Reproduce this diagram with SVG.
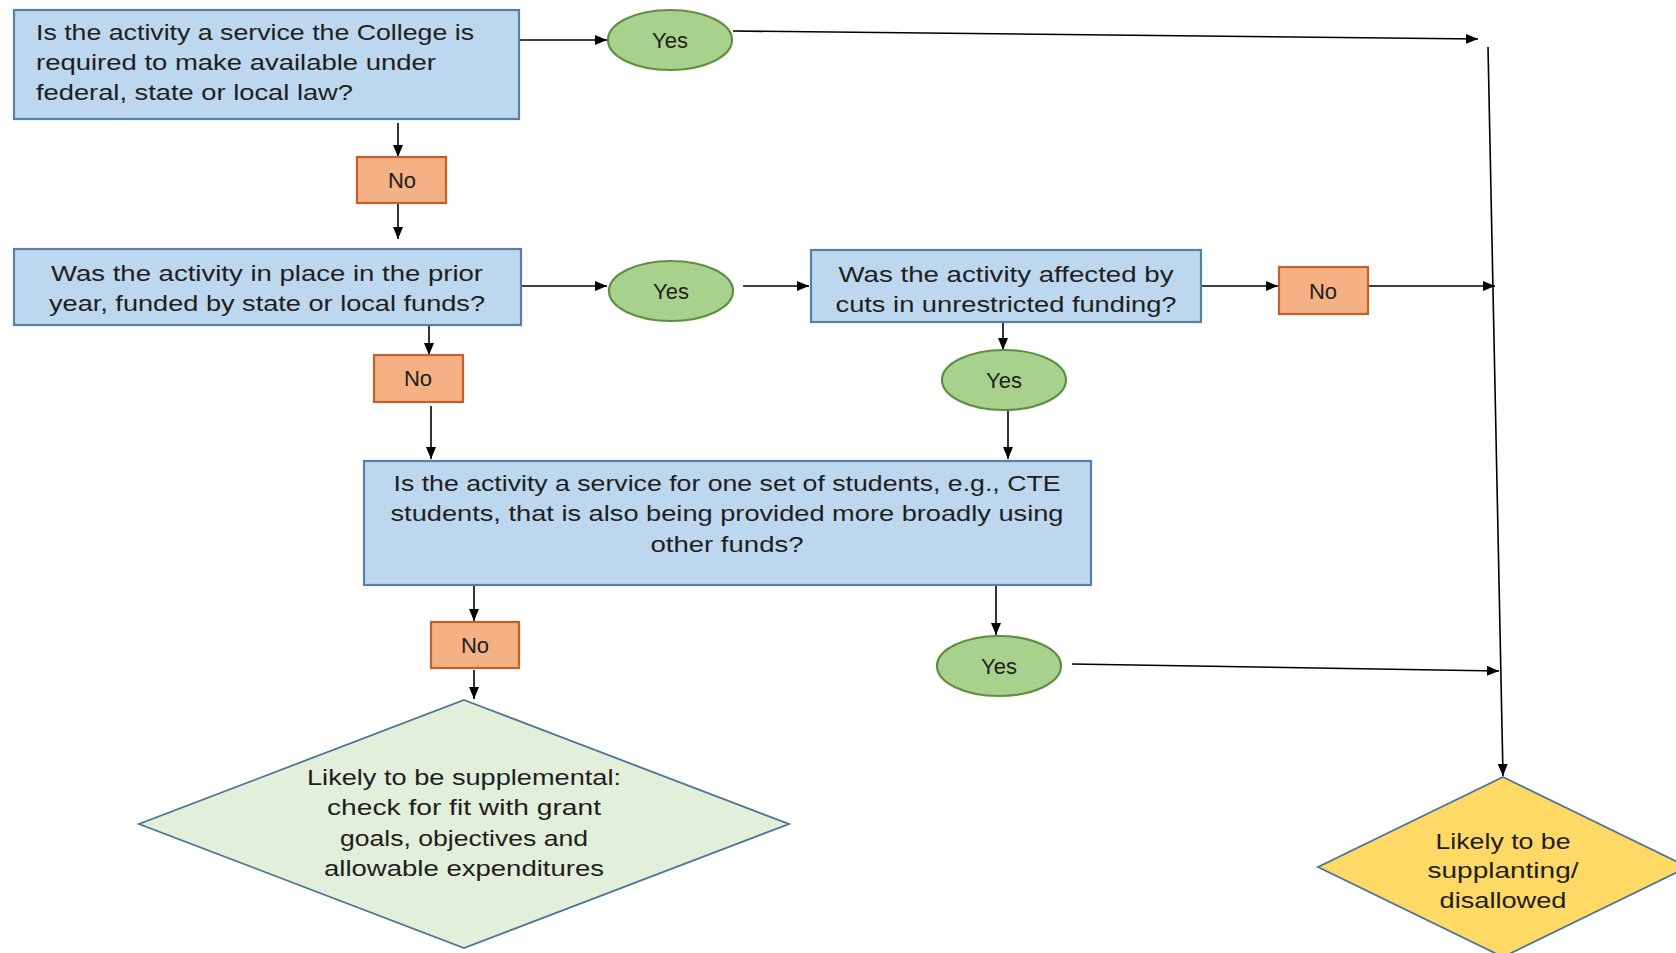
<svg xmlns="http://www.w3.org/2000/svg" width="1676" height="953" viewBox="0 0 1676 953">
<style>
.q{fill:#bdd7ee;stroke:#5a7fa6;stroke-width:2.2}
.y{fill:#a9d18e;stroke:#5f8f41;stroke-width:2.2}
.n{fill:#f4b183;stroke:#c0622a;stroke-width:2.2}
.d1{fill:#e2efda;stroke:#4d7594;stroke-width:1.8}
.d2{fill:#ffd966;stroke:#4d7594;stroke-width:1.8}
text{font-family:"Liberation Sans",Arial,sans-serif;font-size:22.5px;fill:#1e1e1e}
.c{text-anchor:middle}
.s{font-size:22px}
.e line,.e path{stroke:#000;stroke-width:1.6;fill:none;marker-end:url(#ah)}
</style>
<defs>
<marker id="ah" markerUnits="userSpaceOnUse" markerWidth="12" markerHeight="10" refX="12" refY="5" orient="auto">
<path d="M0,0 L12,5 L0,10 z" fill="#000"/>
</marker>
</defs>
<rect width="1676" height="953" fill="#fff"/>
<g id="connectors" class="e">
<line x1="519" y1="40" x2="607" y2="40"/>
<line x1="733" y1="31" x2="1478" y2="39"/>
<line x1="1488" y1="47" x2="1503" y2="776"/>
<line x1="398" y1="123" x2="398" y2="157"/>
<line x1="398" y1="203" x2="398" y2="239"/>
<line x1="521" y1="286" x2="607" y2="286"/>
<line x1="743" y1="286" x2="809" y2="286"/>
<line x1="1201" y1="286" x2="1278" y2="286"/>
<line x1="1368" y1="286" x2="1495" y2="286"/>
<line x1="429" y1="325" x2="429" y2="355"/>
<line x1="431" y1="406" x2="431" y2="459"/>
<line x1="1003" y1="322" x2="1003" y2="350"/>
<line x1="1008" y1="410" x2="1008" y2="459"/>
<line x1="474" y1="585" x2="474" y2="621"/>
<line x1="474" y1="670" x2="474" y2="699"/>
<line x1="996" y1="585" x2="996" y2="635"/>
<line x1="1072" y1="664" x2="1499" y2="671"/>
</g>
<g id="q1">
<rect class="q" x="14" y="10" width="505" height="109"/>
<text x="36" y="40" textLength="438" lengthAdjust="spacingAndGlyphs">Is the activity a service the College is</text>
<text x="36" y="70" textLength="400" lengthAdjust="spacingAndGlyphs">required to make available under</text>
<text x="36" y="100" textLength="317" lengthAdjust="spacingAndGlyphs">federal, state or local law?</text>
</g>
<g id="yes1">
<ellipse class="y" cx="670" cy="40" rx="62" ry="30"/>
<text class="c s" x="670" y="48">Yes</text>
</g>
<g id="no1">
<rect class="n" x="357" y="157" width="89" height="46"/>
<text class="c s" x="402" y="188">No</text>
</g>
<g id="q2">
<rect class="q" x="14" y="249" width="507" height="76"/>
<text class="c" x="267" y="281" textLength="432" lengthAdjust="spacingAndGlyphs">Was the activity in place in the prior</text>
<text class="c" x="267" y="311" textLength="436" lengthAdjust="spacingAndGlyphs">year, funded by state or local funds?</text>
</g>
<g id="yes2">
<ellipse class="y" cx="671" cy="291" rx="62" ry="30"/>
<text class="c s" x="671" y="299">Yes</text>
</g>
<g id="q3">
<rect class="q" x="811" y="250" width="390" height="72"/>
<text class="c" x="1006" y="282" textLength="335" lengthAdjust="spacingAndGlyphs">Was the activity affected by</text>
<text class="c" x="1006" y="312" textLength="341" lengthAdjust="spacingAndGlyphs">cuts in unrestricted funding?</text>
</g>
<g id="no3">
<rect class="n" x="1279" y="267" width="89" height="47"/>
<text class="c s" x="1323" y="299">No</text>
</g>
<g id="no2">
<rect class="n" x="374" y="355" width="89" height="47"/>
<text class="c s" x="418" y="386">No</text>
</g>
<g id="yes3">
<ellipse class="y" cx="1004" cy="380" rx="62" ry="30"/>
<text class="c s" x="1004" y="388">Yes</text>
</g>
<g id="q4">
<rect class="q" x="364" y="461" width="727" height="124"/>
<text class="c" x="727" y="491" textLength="667" lengthAdjust="spacingAndGlyphs">Is the activity a service for one set of students, e.g., CTE</text>
<text class="c" x="727" y="521" textLength="673" lengthAdjust="spacingAndGlyphs">students, that is also being provided more broadly using</text>
<text class="c" x="727" y="552" textLength="153" lengthAdjust="spacingAndGlyphs">other funds?</text>
</g>
<g id="no4">
<rect class="n" x="431" y="622" width="88" height="46"/>
<text class="c s" x="475" y="653">No</text>
</g>
<g id="yes4">
<ellipse class="y" cx="999" cy="666" rx="62" ry="30"/>
<text class="c s" x="999" y="674">Yes</text>
</g>
<g id="supplemental">
<polygon class="d1" points="464,700 789,824 464,948 139,824"/>
<text class="c" x="464" y="785" textLength="314" lengthAdjust="spacingAndGlyphs">Likely to be supplemental:</text>
<text class="c" x="464" y="815" textLength="274" lengthAdjust="spacingAndGlyphs">check for fit with grant</text>
<text class="c" x="464" y="846" textLength="248" lengthAdjust="spacingAndGlyphs">goals, objectives and</text>
<text class="c" x="464" y="876" textLength="280" lengthAdjust="spacingAndGlyphs">allowable expenditures</text>
</g>
<g id="supplanting">
<polygon class="d2" points="1503,777 1688,867 1503,957 1318,867"/>
<text class="c" x="1503" y="849" textLength="135" lengthAdjust="spacingAndGlyphs">Likely to be</text>
<text class="c" x="1503" y="878" textLength="151" lengthAdjust="spacingAndGlyphs">supplanting/</text>
<text class="c" x="1503" y="908" textLength="127" lengthAdjust="spacingAndGlyphs">disallowed</text>
</g>
</svg>
